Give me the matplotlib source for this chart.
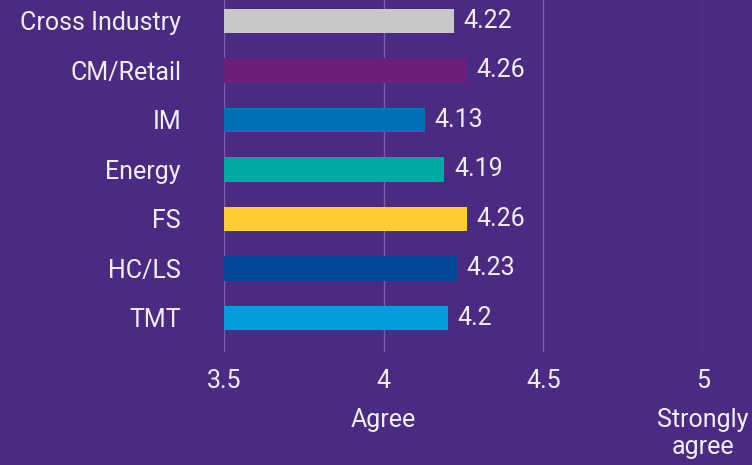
import matplotlib.pyplot as plt
import matplotlib.transforms as mtransforms

plt.rcParams['font.family'] = ['Roboto', 'DejaVu Sans']

sectors = ["Cross Industry", "CM/Retail", "IM", "Energy", "FS", "HC/LS", "TMT"]
scores = [4.22, 4.26, 4.13, 4.19, 4.26, 4.23, 4.2]
score_labels = ["4.22", "4.26", "4.13", "4.19", "4.26", "4.23", "4.2"]
bar_colors = ["#C8C8CA", "#6D2077", "#0070BA", "#00A8A4", "#FFCD2E", "#00499A", "#009DDC"]
xticks = [3.5, 4, 4.5, 5]
xtick_labels = ["3.5", "4", "4.5", "5"]
scale_words = {4: "Agree", 5: "Strongly\nagree"}

bg = "#4A2A82"
txt = "#F2F0F7"
fs = 18
fw = "normal"

fig = plt.figure(figsize=(7.52, 4.65), dpi=100, facecolor=bg)
ax = fig.add_axes([0.298, 0.243, 0.637, 0.757])
ax.set_facecolor(bg)

base = 3.5
ypos = list(range(len(sectors)))
ax.barh(ypos, [s - base for s in scores], left=base, height=0.5, color=bar_colors, zorder=3)

for y, s, lab in zip(ypos, scores, score_labels):
    ax.text(s + 0.03, y, lab, va="center", ha="left", color=txt, fontsize=fs, fontweight=fw)

ax.set_xlim(3.5, 5.0)
ax.set_ylim(6.687, -0.424)
ax.set_yticks(ypos)
ax.set_yticklabels(sectors, color=txt, fontsize=fs, fontweight=fw)
ax.set_xticks(xticks)
ax.set_xticklabels(xtick_labels, color=txt, fontsize=fs, fontweight=fw)
ax.tick_params(axis="both", length=0)
ax.tick_params(axis="x", pad=12)
ax.tick_params(axis="y", pad=31)

ax.grid(axis="x", color="#7461A8", linewidth=1, zorder=0)
for sp in ax.spines.values():
    sp.set_visible(False)

trans = mtransforms.blended_transform_factory(ax.transData, ax.transAxes)
for xv, word in scale_words.items():
    ax.text(xv, -0.16, word, transform=trans, ha="center", va="top", color=txt,
            fontsize=fs, fontweight=fw, linespacing=1.15)

fig.savefig("out.png", dpi=100, facecolor=bg)
